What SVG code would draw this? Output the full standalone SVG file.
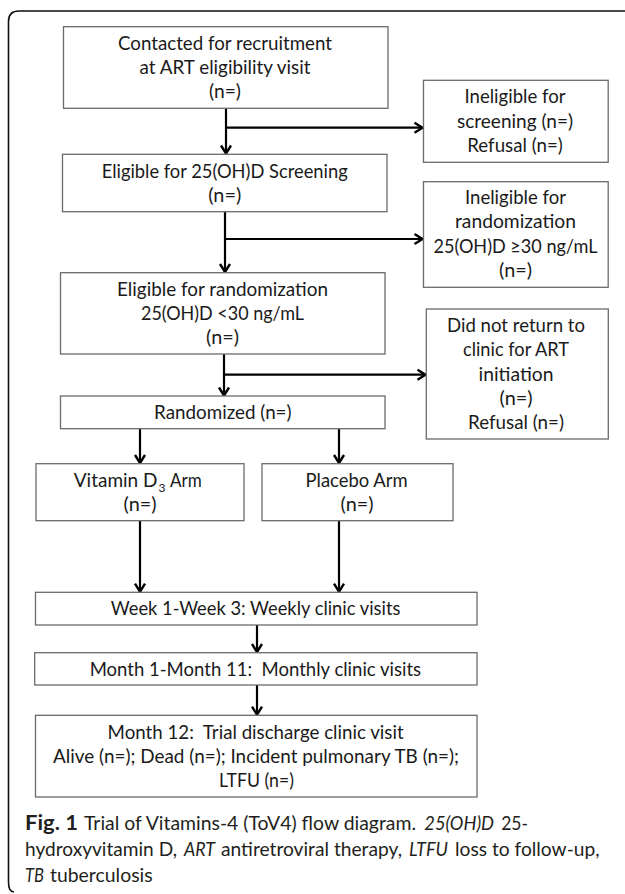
<svg xmlns="http://www.w3.org/2000/svg" width="625" height="894" viewBox="0 0 625 894">
<style>
.box{fill:#fff;stroke:#6b6b6b;stroke-width:1.3}
.t{font-family:Lato,"Liberation Sans",sans-serif;font-size:19px;fill:#1a1a1a;text-anchor:middle}
.s{font-family:Lato,"Liberation Sans",sans-serif;font-size:19px;fill:#1a1a1a}
.sub{font-family:Lato,"Liberation Sans",sans-serif;font-size:12px;fill:#1a1a1a}
.cap{font-family:Lato,"Liberation Sans",sans-serif;font-size:20px;fill:#231f20}
.it{font-style:italic}
.ln{stroke:#000;stroke-width:2.2;fill:none}
</style>
<defs>
<marker id="ah" markerUnits="userSpaceOnUse" markerWidth="14" markerHeight="14" viewBox="-10 -7 12 14" refX="0" refY="0" orient="auto">
<path d="M-8,-5 L0,0 L-8,5" fill="none" stroke="#000" stroke-width="2.4"/>
</marker>
</defs>
<rect width="625" height="894" fill="#fff"/>
<path d="M625,11 H19 Q8.5,11 8.5,21.5 V882 Q8.5,892 14,892" fill="none" stroke="#111" stroke-width="1.6"/>

<g id="connectors">
<line class="ln" x1="226" y1="108.5" x2="226" y2="153.5" marker-end="url(#ah)"/>
<line class="ln" x1="226" y1="127.7" x2="422.5" y2="127.7" marker-end="url(#ah)"/>
<line class="ln" x1="225" y1="211.7" x2="225" y2="272" marker-end="url(#ah)"/>
<line class="ln" x1="225" y1="239" x2="422.5" y2="239" marker-end="url(#ah)"/>
<line class="ln" x1="224" y1="354" x2="224" y2="395.5" marker-end="url(#ah)"/>
<line class="ln" x1="224" y1="374.7" x2="425.5" y2="374.7" marker-end="url(#ah)"/>
<line class="ln" x1="140" y1="428.7" x2="140" y2="463" marker-end="url(#ah)"/>
<line class="ln" x1="339" y1="428.7" x2="339" y2="463" marker-end="url(#ah)"/>
<line class="ln" x1="140" y1="520.7" x2="140" y2="591.7" marker-end="url(#ah)"/>
<line class="ln" x1="339" y1="520.7" x2="339" y2="591.7" marker-end="url(#ah)"/>
<line class="ln" x1="257" y1="625" x2="257" y2="652" marker-end="url(#ah)"/>
<line class="ln" x1="257" y1="685" x2="257" y2="714.7" marker-end="url(#ah)"/>
</g>

<g id="contacted">
<rect class="box" x="63.5" y="26.7" width="324.5" height="81.6"/>
<text class="t" x="225" y="50" textLength="214" lengthAdjust="spacingAndGlyphs">Contacted for recruitment</text>
<text class="t" x="225" y="73.5" textLength="171" lengthAdjust="spacingAndGlyphs">at ART eligibility visit</text>
<text class="t" x="225" y="97.5" textLength="32" lengthAdjust="spacingAndGlyphs">(n=)</text>
</g>

<g id="inelig-screening">
<rect class="box" x="423.5" y="80.3" width="184.7" height="82"/>
<text class="t" x="515" y="103" textLength="101" lengthAdjust="spacingAndGlyphs">Ineligible for</text>
<text class="t" x="515" y="127.5" textLength="116" lengthAdjust="spacingAndGlyphs">screening (n=)</text>
<text class="t" x="515" y="152" textLength="95.5" lengthAdjust="spacingAndGlyphs">Refusal (n=)</text>
</g>

<g id="elig-screening">
<rect class="box" x="62.5" y="154.3" width="324.5" height="57.4"/>
<text class="t" x="224.7" y="177.5" textLength="246" lengthAdjust="spacingAndGlyphs">Eligible for 25(OH)D Screening</text>
<text class="t" x="224.7" y="201.5" textLength="33" lengthAdjust="spacingAndGlyphs">(n=)</text>
</g>

<g id="inelig-random">
<rect class="box" x="423.5" y="181.7" width="184.7" height="105.6"/>
<text class="t" x="515.5" y="203.8" textLength="101" lengthAdjust="spacingAndGlyphs">Ineligible for</text>
<text class="t" x="515.5" y="228.2" textLength="121" lengthAdjust="spacingAndGlyphs">randomization</text>
<text class="t" x="515.5" y="252.5" textLength="164" lengthAdjust="spacingAndGlyphs">25(OH)D ≥30 ng/mL</text>
<text class="t" x="515.5" y="277" textLength="33" lengthAdjust="spacingAndGlyphs">(n=)</text>
</g>

<g id="elig-random">
<rect class="box" x="60.5" y="272.7" width="324.5" height="81.3"/>
<text class="t" x="222.5" y="295.8" textLength="211" lengthAdjust="spacingAndGlyphs">Eligible for randomization</text>
<text class="t" x="222.5" y="319.8" textLength="163" lengthAdjust="spacingAndGlyphs">25(OH)D &lt;30 ng/mL</text>
<text class="t" x="222.5" y="343.8" textLength="33" lengthAdjust="spacingAndGlyphs">(n=)</text>
</g>

<g id="did-not-return">
<rect class="box" x="426.3" y="309" width="182" height="130"/>
<text class="t" x="516" y="331.5" textLength="138" lengthAdjust="spacingAndGlyphs">Did not return to</text>
<text class="t" x="516" y="355.8" textLength="106" lengthAdjust="spacingAndGlyphs">clinic for ART</text>
<text class="t" x="516" y="380.5" textLength="75" lengthAdjust="spacingAndGlyphs">initiation</text>
<text class="t" x="516" y="404.8" textLength="33" lengthAdjust="spacingAndGlyphs">(n=)</text>
<text class="t" x="516" y="429.2" textLength="96" lengthAdjust="spacingAndGlyphs">Refusal (n=)</text>
</g>

<g id="randomized">
<rect class="box" x="60.5" y="396" width="324.5" height="32.7"/>
<text class="t" x="222.8" y="418.8" textLength="137.5" lengthAdjust="spacingAndGlyphs">Randomized (n=)</text>
</g>

<g id="vitd-arm">
<rect class="box" x="36" y="463.7" width="208" height="57"/>
<text class="s" x="157.5" y="486.5" text-anchor="end">Vitamin D</text>
<text class="sub" x="158.5" y="491.5">3</text>
<text class="s" x="170" y="486.5" textLength="31.7" lengthAdjust="spacingAndGlyphs">Arm</text>
<text class="t" x="140" y="511" textLength="33" lengthAdjust="spacingAndGlyphs">(n=)</text>
</g>

<g id="placebo-arm">
<rect class="box" x="262" y="463.7" width="191" height="57"/>
<text class="t" x="356.6" y="486.5" textLength="102" lengthAdjust="spacingAndGlyphs">Placebo Arm</text>
<text class="t" x="357" y="511" textLength="33" lengthAdjust="spacingAndGlyphs">(n=)</text>
</g>

<g id="weekly">
<rect class="box" x="35.5" y="592.3" width="441.5" height="32.7"/>
<text class="t" x="255.6" y="615.3" textLength="289.6" lengthAdjust="spacingAndGlyphs">Week 1-Week 3: Weekly clinic visits</text>
</g>

<g id="monthly">
<rect class="box" x="34.7" y="652.7" width="442.3" height="32.3"/>
<text class="t" x="255.4" y="675.5" textLength="331.5" lengthAdjust="spacingAndGlyphs" xml:space="preserve">Month 1-Month 11:  Monthly clinic visits</text>
</g>

<g id="month12">
<rect class="box" x="35.5" y="715.3" width="441.5" height="81.7"/>
<text class="t" x="255.6" y="738.8" textLength="296" lengthAdjust="spacingAndGlyphs" xml:space="preserve">Month 12:  Trial discharge clinic visit</text>
<text class="t" x="256" y="763.2" textLength="406" lengthAdjust="spacingAndGlyphs">Alive (n=); Dead (n=); Incident pulmonary TB (n=);</text>
<text class="t" x="256.5" y="787.2" textLength="75" lengthAdjust="spacingAndGlyphs">LTFU (n=)</text>
</g>

<g id="caption">
<text class="cap" x="25" y="830" font-weight="bold" textLength="53" lengthAdjust="spacingAndGlyphs">Fig. 1</text>
<text class="cap" x="84" y="830" textLength="332" lengthAdjust="spacingAndGlyphs">Trial of Vitamins-4 (ToV4) flow diagram.</text>
<text class="cap it" x="424.3" y="830" textLength="69.7" lengthAdjust="spacingAndGlyphs">25(OH)D</text>
<text class="cap" x="501.2" y="830" textLength="26.8" lengthAdjust="spacingAndGlyphs">25-</text>
<text class="cap" x="25" y="856" textLength="152" lengthAdjust="spacingAndGlyphs">hydroxyvitamin D,</text>
<text class="cap it" x="184" y="856" textLength="31" lengthAdjust="spacingAndGlyphs">ART</text>
<text class="cap" x="221" y="856" textLength="181" lengthAdjust="spacingAndGlyphs">antiretroviral therapy,</text>
<text class="cap it" x="409" y="856" textLength="39" lengthAdjust="spacingAndGlyphs">LTFU</text>
<text class="cap" x="455" y="856" textLength="144.6" lengthAdjust="spacingAndGlyphs">loss to follow-up,</text>
<text class="cap it" x="25" y="882" textLength="19" lengthAdjust="spacingAndGlyphs">TB</text>
<text class="cap" x="50" y="882" textLength="102.6" lengthAdjust="spacingAndGlyphs">tuberculosis</text>
</g>
</svg>
